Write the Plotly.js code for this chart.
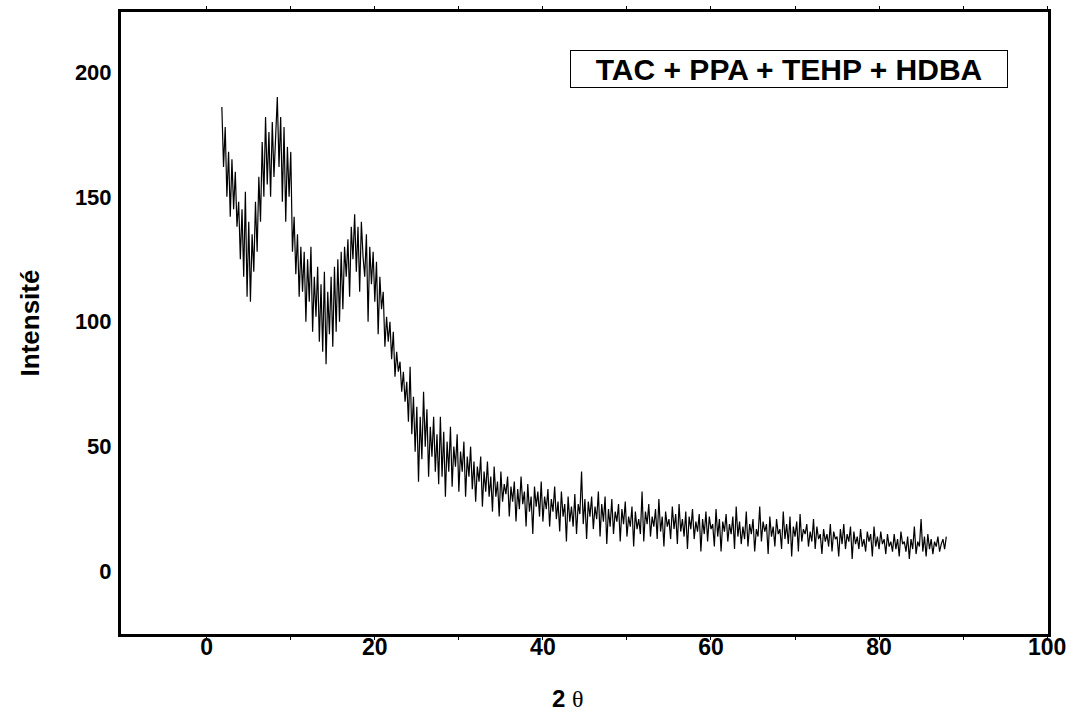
<!DOCTYPE html>
<html>
<head>
<meta charset="utf-8">
<script src="https://cdn.plot.ly/plotly-3.0.1.min.js"></script>
<style>body{margin:0;background:#fff}#chart{width:1077px;height:712px}</style>
</head>
<body>
<div id="chart"></div>
<script>
// Sampling grid of the diffractogram (2 theta, degrees)
const twoThetaStart = 1.8;
const twoThetaStep = 0.2;

// Intensity values
const intensity = [
  186,162,178,150,168,142,165,145,160,138,
  148,125,145,118,152,110,140,108,135,120,
  148,128,158,140,172,150,182,155,176,150,
  180,158,174,190,162,182,148,178,140,170,
  150,168,128,142,119,135,110,130,112,128,
  100,125,108,130,96,118,102,122,92,115,
  88,120,83,112,95,118,90,122,96,125,
  100,128,105,130,118,133,110,138,125,143,
  120,138,112,140,126,118,135,100,130,115,
  128,108,124,95,118,105,112,90,102,92,
  100,85,96,78,88,80,84,72,80,68,
  76,60,82,55,70,48,66,36,62,45,
  72,50,65,38,58,46,62,40,55,35,
  62,38,56,30,52,40,58,34,50,42,
  55,32,48,40,52,30,46,38,50,33,
  44,28,42,36,46,26,40,32,44,30,
  38,24,42,30,36,22,40,28,35,31,
  38,22,34,28,36,20,33,25,38,27,
  32,18,35,24,30,15,34,26,32,22,
  36,20,30,25,33,18,29,24,34,21,
  28,16,32,22,27,12,30,20,26,18,
  31,15,27,23,40,19,29,13,28,22,
  30,17,26,21,32,14,27,20,30,11,
  25,18,29,15,24,20,27,12,25,19,
  28,14,22,18,26,10,24,17,21,15,
  32,12,24,19,27,14,22,18,25,13,
  29,16,22,10,24,18,21,13,26,17,
  23,11,27,16,21,14,24,9,22,17,
  25,13,20,16,23,8,21,15,24,12,
  22,17,19,10,25,14,21,8,20,16,
  23,12,19,15,22,9,26,14,20,11,
  18,13,24,10,19,15,21,8,17,14,
  26,12,20,16,19,7,22,14,18,10,
  21,15,17,9,24,13,19,11,22,6,
  18,14,20,8,23,12,17,15,19,10,
  16,12,21,9,18,13,15,7,17,12,
  15,10,19,8,16,13,14,6,17,11,
  19,9,15,12,18,5,16,11,14,9,
  17,10,13,8,16,12,15,6,18,10,
  14,9,16,11,13,7,15,10,12,8,
  15,9,13,6,16,11,12,8,14,5,
  13,9,18,7,12,10,21,8,14,6,
  15,9,13,7,12,10,14,8,11,13,
  9,14
];

const xTickVals = [0, 10, 20, 30, 40, 50, 60, 70, 80, 90, 100];
const xTickText = ["0", "", "20", "", "40", "", "60", "", "80", "", "100"];
const yTickVals = [0, 50, 100, 150, 200];
const yTickText = ["0", "50", "100", "150", "200"];
const legendText = "TAC + PPA + TEHP + HDBA";
const xTitle = '2 <span style="font-family:\'Liberation Serif\';font-weight:normal">θ</span>&nbsp;&nbsp;&nbsp;&nbsp;&nbsp;';
const yTitle = "Intensité";

const twoTheta = intensity.map((_, i) => +(twoThetaStart + i * twoThetaStep).toFixed(2));

const boldFont = {family: "Liberation Sans, Arial, sans-serif", color: "#000", weight: "bold"};

const data = [{
  x: twoTheta,
  y: intensity,
  type: "scatter",
  mode: "lines",
  line: {color: "#000", width: 1.2},
  hoverinfo: "skip"
}];

const layout = {
  width: 1077,
  height: 712,
  margin: {l: 121, r: 29, t: 12, b: 78},
  paper_bgcolor: "#fff",
  plot_bgcolor: "#fff",
  showlegend: false,
  xaxis: {
    range: [-10.2, 100.1],
    tickvals: xTickVals,
    ticktext: xTickText,
    ticks: "outside",
    ticklen: 3,
    tickwidth: 1,
    tickcolor: "#000",
    ticklabelstandoff: -13,
    showline: true,
    linewidth: 3,
    linecolor: "#000",
    mirror: "allticks",
    showgrid: false,
    zeroline: false,
    automargin: false,
    tickfont: Object.assign({size: 23}, boldFont),
    title: {text: xTitle, font: Object.assign({size: 24}, boldFont), standoff: 34}
  },
  yaxis: {
    range: [-25, 224],
    tickvals: yTickVals,
    ticktext: yTickText,
    ticks: "",
    ticklabelstandoff: 2,
    showline: true,
    linewidth: 3,
    linecolor: "#000",
    mirror: true,
    showgrid: false,
    zeroline: false,
    automargin: false,
    tickfont: Object.assign({size: 22}, boldFont),
    title: {text: yTitle, font: Object.assign({size: 26}, boldFont), standoff: 28}
  },
  annotations: [{
    xref: "paper", yref: "paper",
    x: 0.4844, y: 0.9389,
    xanchor: "left", yanchor: "top",
    text: legendText,
    showarrow: false,
    align: "center",
    width: 434,
    height: 34,
    bordercolor: "#000",
    borderwidth: 1,
    borderpad: 1,
    bgcolor: "#fff",
    font: Object.assign({size: 30}, boldFont)
  }]
};

Plotly.newPlot("chart", data, layout, {displayModeBar: false, staticPlot: true});
</script>
</body>
</html>
